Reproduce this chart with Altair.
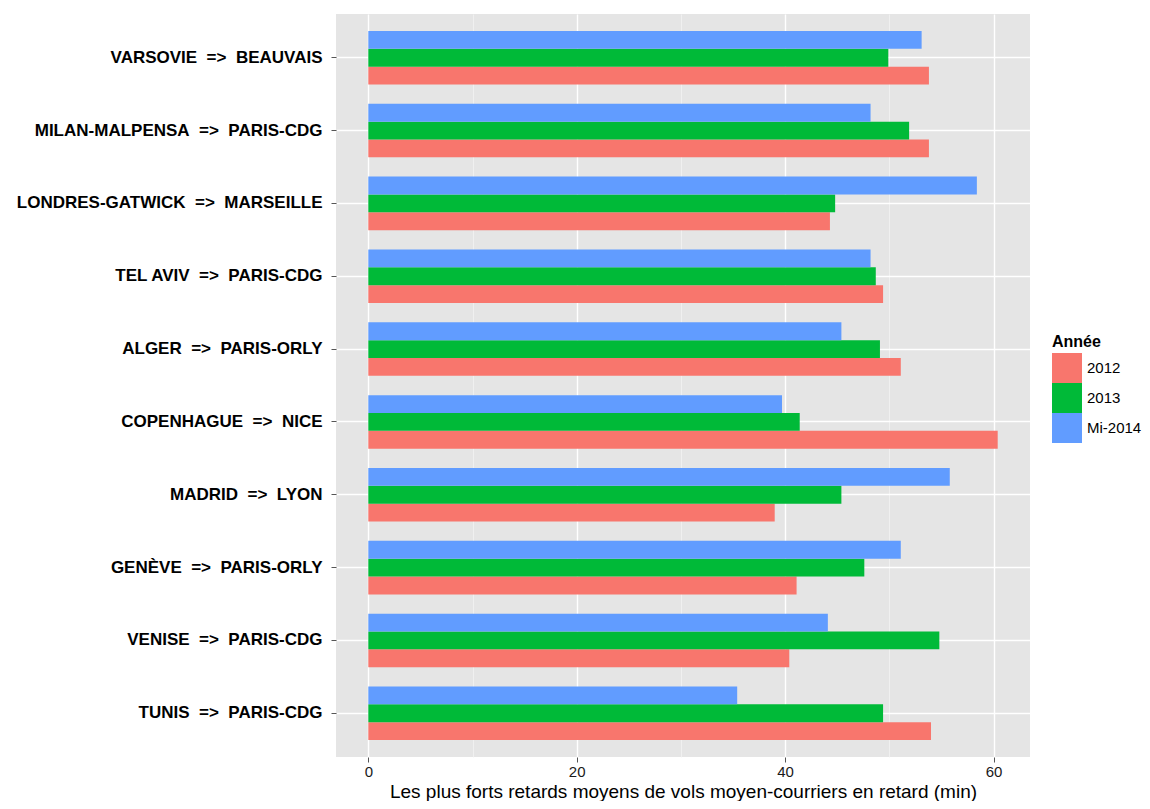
import altair as alt
import pandas as pd

SP = "\u00a0\u00a0"
routes = [
    f"VARSOVIE{SP}=>{SP}BEAUVAIS",
    f"MILAN-MALPENSA{SP}=>{SP}PARIS-CDG",
    f"LONDRES-GATWICK{SP}=>{SP}MARSEILLE",
    f"TEL AVIV{SP}=>{SP}PARIS-CDG",
    f"ALGER{SP}=>{SP}PARIS-ORLY",
    f"COPENHAGUE{SP}=>{SP}NICE",
    f"MADRID{SP}=>{SP}LYON",
    f"GENÈVE{SP}=>{SP}PARIS-ORLY",
    f"VENISE{SP}=>{SP}PARIS-CDG",
    f"TUNIS{SP}=>{SP}PARIS-CDG",
]
years = ["2012", "2013", "Mi-2014"]
v2012 = [53.8, 53.8, 44.3, 49.4, 51.1, 60.4, 39.0, 41.1, 40.4, 54.0]
v2013 = [49.9, 51.9, 44.8, 48.7, 49.1, 41.4, 45.4, 47.6, 54.8, 49.4]
v2014 = [53.1, 48.2, 58.4, 48.2, 45.4, 39.7, 55.8, 51.1, 44.1, 35.4]
colors = ["#F8766D", "#00BA38", "#619CFF"]
x_ticks = [0, 10, 20, 30, 40, 50, 60]

rows = []
for yr, vals in zip(years, [v2012, v2013, v2014]):
    for r, v in zip(routes, vals):
        rows.append({"route": r, "year": yr, "value": v})
df = pd.DataFrame(rows)

FONT = "Liberation Sans"

chart = alt.Chart(df).mark_bar().encode(
    y=alt.Y(
        "route:N",
        sort=routes,
        scale=alt.Scale(paddingInner=0.265, paddingOuter=0.2325),
        axis=alt.Axis(
            title=None,
            domain=False,
            tickBand="center",
            tickSize=5,
            tickColor="#555555",
            labelFontSize=17,
            labelFontWeight="bold",
            labelColor="#000000",
            labelPadding=9,
            labelFont=FONT,
            grid=True,
            gridColor="#FFFFFF",
            gridWidth=1.4,
            labelLimit=400,
        ),
    ),
    yOffset=alt.YOffset(
        "year:N",
        sort=["Mi-2014", "2013", "2012"],
        scale=alt.Scale(paddingInner=0, paddingOuter=0),
    ),
    x=alt.X(
        "value:Q",
        scale=alt.Scale(domain=[-3.1, 63.5], nice=False, zero=False),
        axis=alt.Axis(
            title="Les plus forts retards moyens de vols moyen-courriers en retard (min)",
            values=x_ticks,
            domain=False,
            tickSize=5,
            tickColor="#555555",
            tickOpacity={"condition": {"test": "datum.value % 20 === 0", "value": 1}, "value": 0},
            labelExpr="datum.value % 20 === 0 ? datum.label : ''",
            labelFontSize=15,
            labelColor="#1a1a1a",
            labelFont=FONT,
            labelPadding=2,
            titleFontSize=19,
            titleFontWeight="normal",
            titleColor="#000000",
            titleFont=FONT,
            titleBaseline="alphabetic",
            titleY=40,
            grid=True,
            gridColor={"condition": {"test": "datum.value % 20 === 0", "value": "#FFFFFF"}, "value": "#F2F2F2"},
            gridWidth={"condition": {"test": "datum.value % 20 === 0", "value": 1.4}, "value": 0.8},
        ),
    ),
    x2=alt.datum(0),
    color=alt.Color(
        "year:N",
        scale=alt.Scale(domain=years, range=colors),
        legend=alt.Legend(
            title="Année",
            orient="none",
            legendX=716,
            legendY=320,
            symbolType="square",
            symbolSize=900,
            symbolStrokeWidth=0,
            symbolOpacity=1,
            rowPadding=0,
            titleFontSize=16,
            titleFontWeight="bold",
            titleColor="#000000",
            titleFont=FONT,
            titlePadding=3,
            labelFontSize=15,
            labelColor="#000000",
            labelFont=FONT,
            labelOffset=5,
        ),
    ),
).properties(
    width=694,
    height=743,
    autosize=alt.AutoSizeParams(type="none"),
    padding={"left": 328, "top": 6, "right": 112, "bottom": 44},
).configure_view(
    fill="#E5E5E5",
    stroke=None,
)

chart.save("out.html", embed_options={"renderer": "svg", "actions": False})
